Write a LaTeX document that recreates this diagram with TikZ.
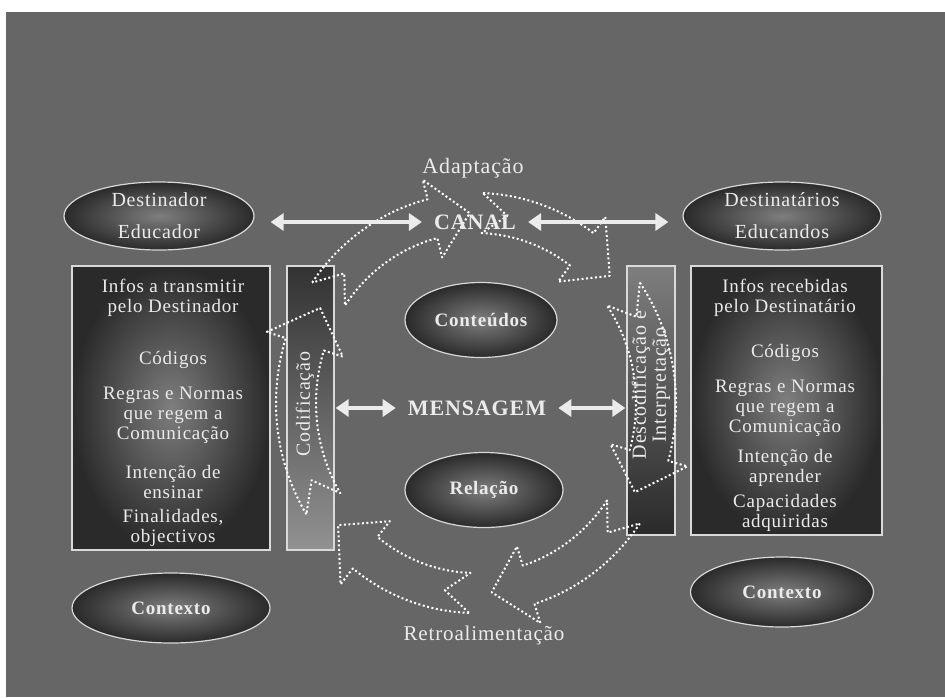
\documentclass[tikz,border=0pt]{standalone}
\usepackage{fontspec}
\setmainfont[LetterSpace=4]{Liberation Serif}
\usetikzlibrary{positioning}
\usetikzlibrary{calc}
\usetikzlibrary{arrows.meta}
\usetikzlibrary{shapes.geometric}
\definecolor{slidegray}{HTML}{666666}
\definecolor{darkfill}{HTML}{2A2A2A}
\definecolor{lightfill}{HTML}{7E7E7E}
\colorlet{framewhite}{white!85!black}
\colorlet{slidetext}{white!92!black}
\tikzstyle{oval}=[ellipse, draw=framewhite, line width=1.2pt, inner color=lightfill, outer color=darkfill, text=slidetext, align=center, inner sep=0pt]
\tikzstyle{infobox}=[rectangle, draw=framewhite, line width=1.2pt, inner color=lightfill, outer color=darkfill, inner sep=0pt]
\tikzstyle{boxtext}=[slidetext, align=center, inner sep=0pt, font=\fontsize{19}{20}\selectfont]
\tikzstyle{boldtext}=[slidetext, inner sep=0pt, font=\bfseries\fontsize{22}{22}\selectfont]
\tikzstyle{flowarrow}=[slidetext, line width=3.5pt, {Triangle[length=13pt,width=17pt]}-{Triangle[length=13pt,width=17pt]}]
\tikzstyle{cycledots}=[white, line width=2pt, dash pattern=on 2pt off 2.5pt, line join=round]
% one curved block arrow of the cycle, from angle #1 to angle #2
\newcommand{\cyclearrow}[2]{%
  \draw[cycledots] ($(ctr)+(#1:200 and 210)$) arc[start angle=#1, end angle=#2-12, x radius=200, y radius=210]
    -- ($(ctr)+(#2-12:220 and 230)$) -- ($(ctr)+(#2:180 and 190)$) -- ($(ctr)+(#2-12:140 and 150)$)
    -- ($(ctr)+(#2-12:160 and 170)$) arc[start angle=#2-12, end angle=#1, x radius=160, y radius=170]
    -- ($(ctr)+(#1+8:180 and 190)$) -- cycle;}

\begin{document}
\begin{tikzpicture}[x=1pt, y=-1pt]
    \fill[white] (0,0) rectangle (945,697);
    \fill[slidegray] (6,12) rectangle (945,697);

    \coordinate (ctr) at (476,403);

    % boxes and bars
    \node[infobox, minimum width=198, minimum height=284] at (171,408) (infosleft) {};
    \node[infobox, minimum width=191, minimum height=269] at (786.5,400.5) (infosright) {};
    \node[rectangle, draw=framewhite, line width=1.2pt, top color=darkfill!90!lightfill, bottom color=lightfill!85!white, minimum width=47, minimum height=284] at (310.5,408) (codif) {};
    \node[rectangle, draw=framewhite, line width=1.2pt, top color=lightfill, bottom color=darkfill, minimum width=48, minimum height=269] at (651,400.5) (descod) {};

    % ovals
    \node[oval, minimum width=190, minimum height=68, font=\fontsize{20}{32}\selectfont] at (159,216) (destinador) {Destinador\\Educador};
    \node[oval, minimum width=198, minimum height=68, font=\fontsize{20}{32}\selectfont] at (782,216) (destinatarios) {Destinatários\\Educandos};
    \node[oval, minimum width=152, minimum height=75, font=\bfseries\fontsize{19}{19}\selectfont] at (481,320) (conteudos) {Conteúdos};
    \node[oval, minimum width=158, minimum height=75, font=\bfseries\fontsize{19}{19}\selectfont] at (484,490) (relacao) {Relação};
    \node[oval, minimum width=198, minimum height=70, font=\bfseries\fontsize{19}{19}\selectfont] at (171,608) (contextoleft) {Contexto};
    \node[oval, minimum width=183, minimum height=70, font=\bfseries\fontsize{19}{19}\selectfont] at (782,592) (contextoright) {Contexto};

    % cycle of dotted arrows
    \cyclearrow{215}{268}
    \cyclearrow{272}{318}
    \cyclearrow{325}{388}
    \cyclearrow{35}{85}
    \cyclearrow{92}{140}
    \cyclearrow{148}{210}

    % labels
    \node[slidetext, font=\fontsize{22}{22}\selectfont] at (473,168) (adaptacao) {Adaptação};
    \node[slidetext, font=\fontsize{21}{21}\selectfont] at (484,635) (retro) {Retroalimentação};
    \node[boldtext] at (475,222) (canal) {CANAL};
    \node[boldtext] at (477,408) (mensagem) {MENSAGEM};
    \node[slidetext, rotate=90, font=\fontsize{20}{20}\selectfont] at (305,404) (codiflabel) {Codificação};
    \node[slidetext, rotate=90, align=center, font=\fontsize{20}{20}\selectfont] at (651,385) (descodlabel) {Descodificação e\\Interpretação};

    \node[boxtext] at (173,298) (transmitir) {Infos a transmitir\\pelo Destinador};
    \node[boxtext] at (173,360) (codigosleft) {Códigos};
    \node[boxtext] at (173,415) (regrasleft) {Regras e Normas\\que regem a\\Comunicação};
    \node[boxtext] at (173,482) (ensinar) {Intenção de\\ensinar};
    \node[boxtext] at (173,528) (finalidades) {Finalidades,\\objectivos};
    \node[boxtext] at (785,297.5) (recebidas) {Infos recebidas\\pelo Destinatário};
    \node[boxtext] at (785,353) (codigosright) {Códigos};
    \node[boxtext] at (785,408) (regrasright) {Regras e Normas\\que regem a\\Comunicação};
    \node[boxtext] at (785,467.5) (aprender) {Intenção de\\aprender};
    \node[boxtext] at (785,512.5) (capacidades) {Capacidades\\adquiridas};

    % arrows
    \draw[flowarrow, shorten <=16pt, shorten >=12pt] (destinador.east |- canal.west) -- (canal.west);
    \draw[flowarrow, shorten <=12pt, shorten >=14pt] (canal.east) -- (canal.east -| destinatarios.west);
    \draw[flowarrow, shorten <=1pt, shorten >=12pt] (codif.east |- mensagem.west) -- (mensagem.west);
    \draw[flowarrow, shorten <=12pt, shorten >=1pt] (mensagem.east) -- (mensagem.east -| descod.west);
\end{tikzpicture}
\end{document}
